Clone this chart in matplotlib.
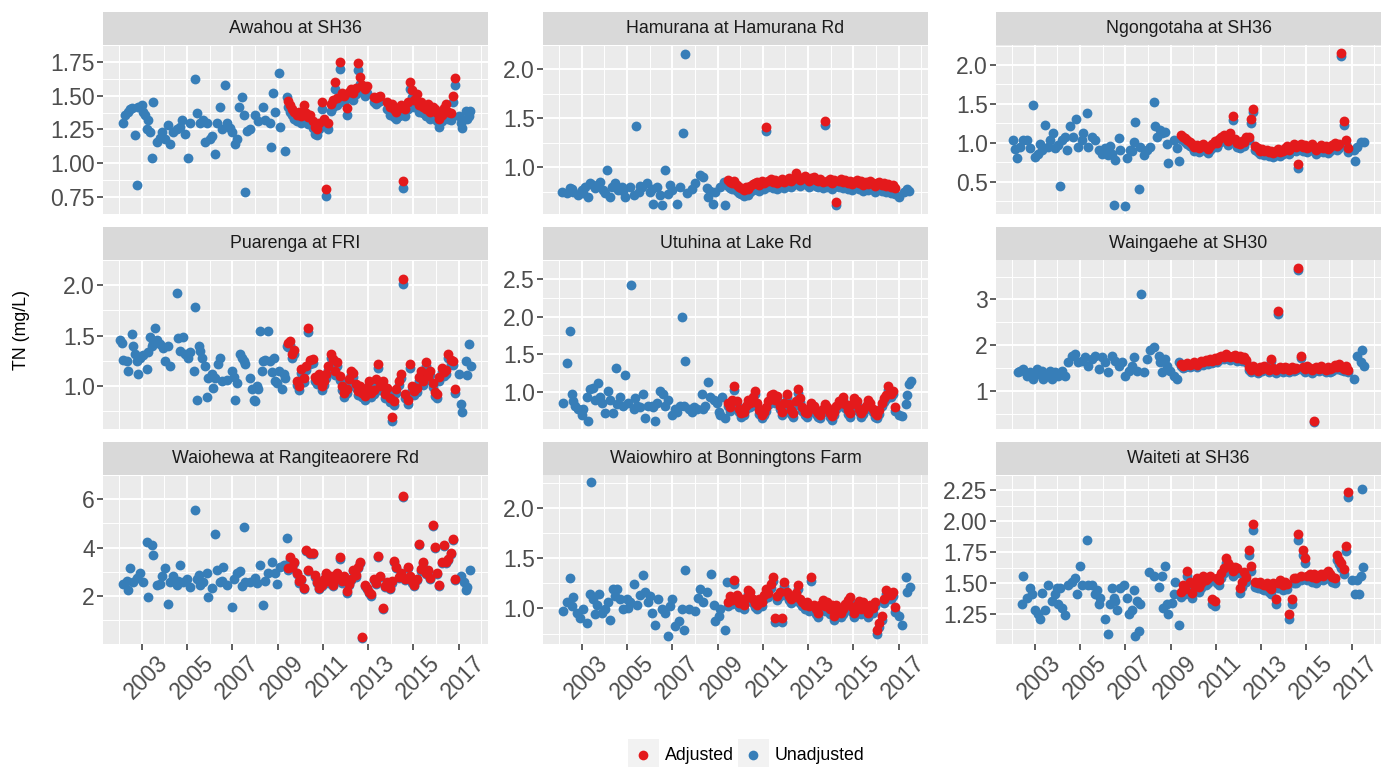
import numpy as np
import matplotlib
matplotlib.use("Agg")
import matplotlib.pyplot as plt
import matplotlib.transforms as mtransforms
from matplotlib.patches import Rectangle
from matplotlib.lines import Line2D

plt.rcParams['font.family'] = ['Liberation Sans', 'DejaVu Sans']

nan = np.nan

SITES = ["Awahou at SH36", "Hamurana at Hamurana Rd", "Ngongotaha at SH36",
         "Puarenga at FRI", "Utuhina at Lake Rd", "Waingaehe at SH30",
         "Waiohewa at Rangiteaorere Rd", "Waiowhiro at Bonningtons Farm", "Waiteti at SH36"]

# sampling dates (decimal year) where both adjusted and unadjusted TN exist
POST_DATES = [
    2009.45, 2009.55, 2009.65, 2009.75, 2009.85,
    2009.95, 2010.05, 2010.15, 2010.25, 2010.35,
    2010.45, 2010.55, 2010.65, 2010.75, 2010.85,
    2010.95, 2011.05, 2011.15, 2011.25, 2011.35,
    2011.45, 2011.55, 2011.65, 2011.75, 2011.85,
    2011.95, 2012.05, 2012.15, 2012.25, 2012.35,
    2012.45, 2012.55, 2012.65, 2012.75, 2012.85,
    2012.95, 2013.05, 2013.15, 2013.25, 2013.35,
    2013.45, 2013.55, 2013.65, 2013.75, 2013.85,
    2013.95, 2014.05, 2014.15, 2014.25, 2014.35,
    2014.45, 2014.55, 2014.65, 2014.75, 2014.85,
    2014.95, 2015.05, 2015.15, 2015.25, 2015.35,
    2015.45, 2015.55, 2015.65, 2015.75, 2015.85,
    2015.95, 2016.05, 2016.15, 2016.25, 2016.35,
    2016.45, 2016.55, 2016.65, 2016.75, 2016.85,
]

# ---- Awahou ----
AWAHOU_EARLY = [
    (2002.19, 1.30), (2002.26, 1.36), (2002.41, 1.38), (2002.48, 1.40), (2002.56, 1.41),
    (2002.71, 1.21), (2002.78, 0.84), (2002.85, 1.42), (2003.00, 1.43), (2003.07, 1.38),
    (2003.15, 1.36), (2003.22, 1.25), (2003.29, 1.32), (2003.37, 1.23), (2003.44, 1.04),
    (2003.52, 1.45), (2003.66, 1.16), (2003.81, 1.19), (2003.88, 1.23), (2004.03, 1.18),
    (2004.18, 1.28), (2004.25, 1.14), (2004.40, 1.23), (2004.55, 1.25), (2004.70, 1.27),
    (2004.77, 1.32), (2004.92, 1.22), (2005.06, 1.04), (2005.14, 1.30), (2005.36, 1.62),
    (2005.43, 1.37), (2005.58, 1.30), (2005.73, 1.32), (2005.80, 1.16), (2005.88, 1.30),
    (2006.02, 1.18), (2006.10, 1.20), (2006.24, 1.07), (2006.32, 1.30), (2006.47, 1.42),
    (2006.54, 1.25), (2006.69, 1.58), (2006.76, 1.30), (2006.91, 1.26), (2006.98, 1.23),
    (2007.13, 1.14), (2007.20, 1.18), (2007.28, 1.42), (2007.42, 1.49), (2007.50, 1.36),
    (2007.57, 0.79), (2007.65, 1.24), (2007.79, 1.25), (2008.01, 1.36), (2008.16, 1.31),
    (2008.38, 1.42), (2008.46, 1.32), (2008.68, 1.30), (2008.71, 1.12), (2008.80, 1.52),
    (2008.90, 1.38), (2009.05, 1.67), (2009.12, 1.27), (2009.34, 1.09), (2009.42, 1.49),
    (2017.01, 1.35), (2017.09, 1.30), (2017.16, 1.26), (2017.31, 1.39), (2017.38, 1.33),
    (2017.45, 1.35), (2017.50, 1.39),
]
AWAHOU_ADJ = [
    1.46, 1.43, 1.40, 1.38, 1.36, 1.38, 1.35, 1.43, 1.37, 1.34,
    1.36, 1.31, 1.27, 1.25, 1.30, 1.45, 1.33, 0.81, 1.30, 1.44,
    1.47, 1.60, 1.48, 1.75, 1.52, 1.50, 1.41, 1.53, 1.55, 1.52,
    1.56, 1.74, 1.64, 1.58, 1.55, 1.57, nan, nan, 1.49, 1.48,
    1.49, 1.50, nan, nan, 1.45, 1.42, 1.44, 1.40, 1.38, 1.41,
    1.43, 0.87, 1.40, 1.45, 1.60, 1.54, 1.47, 1.51, 1.43, 1.45,
    1.42, 1.40, 1.44, 1.38, 1.42, 1.40, 1.37, 1.33, 1.36, 1.41,
    1.44, 1.38, 1.37, 1.50, 1.63,
]
AWAHOU_UNADJ = [
    1.42, 1.38, 1.36, 1.33, 1.31, 1.34, 1.30, 1.38, 1.33, 1.29,
    1.31, 1.26, 1.22, 1.21, 1.25, 1.40, 1.28, 0.76, 1.25, 1.39,
    1.42, 1.55, 1.43, 1.70, 1.47, 1.45, 1.36, 1.48, 1.50, 1.47,
    1.51, 1.69, 1.59, 1.53, 1.50, 1.52, nan, nan, 1.45, 1.44,
    1.45, 1.46, nan, nan, 1.40, 1.36, 1.38, 1.34, 1.33, 1.35,
    1.37, 0.82, 1.35, 1.40, 1.55, 1.49, 1.42, 1.46, 1.38, 1.40,
    1.37, 1.35, 1.39, 1.33, 1.37, 1.35, 1.31, 1.27, 1.31, 1.36,
    1.39, 1.33, 1.32, 1.45, 1.58,
]

# ---- Hamurana ----
HAMURANA_EARLY = [
    (2002.12, 0.75), (2002.34, 0.74), (2002.48, 0.79), (2002.56, 0.78), (2002.63, 0.75),
    (2002.85, 0.72), (2003.00, 0.77), (2003.07, 0.74), (2003.15, 0.80), (2003.29, 0.70),
    (2003.37, 0.84), (2003.52, 0.82), (2003.59, 0.79), (2003.81, 0.85), (2003.96, 0.77),
    (2004.03, 0.74), (2004.11, 0.97), (2004.25, 0.70), (2004.33, 0.80), (2004.47, 0.84),
    (2004.62, 0.77), (2004.77, 0.80), (2004.84, 0.76), (2004.92, 0.70), (2005.14, 0.80),
    (2005.29, 0.72), (2005.40, 1.42), (2005.51, 0.75), (2005.58, 0.81), (2005.65, 0.80),
    (2005.88, 0.84), (2006.02, 0.75), (2006.10, 0.78), (2006.17, 0.63), (2006.32, 0.80),
    (2006.47, 0.72), (2006.54, 0.62), (2006.69, 0.97), (2006.83, 0.73), (2006.91, 0.82),
    (2006.98, 0.77), (2007.20, 0.63), (2007.35, 0.80), (2007.46, 1.35), (2007.57, 2.16),
    (2007.65, 0.74), (2007.87, 0.78), (2008.01, 0.84), (2008.24, 0.92), (2008.38, 0.90),
    (2008.53, 0.79), (2008.60, 0.70), (2008.68, 0.76), (2008.78, 0.63), (2008.90, 0.75),
    (2009.12, 0.80), (2009.27, 0.85), (2009.34, 0.62),
    (2017.01, 0.70), (2017.23, 0.75), (2017.38, 0.78), (2017.45, 0.76),
]
HAMURANA_ADJ = [
    0.87, 0.85, 0.84, 0.86, 0.82, 0.80, 0.79, 0.77, 0.80, 0.78,
    0.81, 0.83, 0.84, 0.85, 0.82, 0.86, 0.84, 1.41, 0.86, 0.88,
    0.85, 0.87, 0.84, 0.86, 0.88, 0.85, 0.87, 0.89, 0.86, 0.88,
    0.94, 0.90, 0.87, 0.89, 0.91, 0.88, 0.86, 0.89, 0.90, 0.87,
    0.86, 0.88, 0.85, 1.47, 0.86, 0.88, 0.84, 0.87, 0.65, 0.86,
    0.88, 0.85, 0.87, 0.84, 0.86, 0.83, 0.85, 0.87, 0.84, 0.86,
    0.82, 0.85, 0.83, 0.86, 0.84, 0.81, 0.84, 0.85, 0.82, 0.84,
    0.81, 0.83, 0.80, 0.82, 0.79,
]
HAMURANA_UNADJ = [
    0.81, 0.79, 0.78, 0.80, 0.76, 0.74, 0.73, 0.71, 0.74, 0.72,
    0.75, 0.77, 0.78, 0.79, 0.76, 0.80, 0.78, 1.37, 0.80, 0.82,
    0.79, 0.81, 0.78, 0.80, 0.82, 0.79, 0.81, 0.83, 0.80, 0.82,
    0.88, 0.84, 0.81, 0.83, 0.85, 0.82, 0.80, 0.83, 0.84, 0.81,
    0.80, 0.82, 0.79, 1.43, 0.80, 0.82, 0.78, 0.81, 0.61, 0.80,
    0.82, 0.79, 0.81, 0.78, 0.80, 0.77, 0.79, 0.81, 0.78, 0.80,
    0.76, 0.79, 0.77, 0.80, 0.78, 0.75, 0.78, 0.79, 0.76, 0.78,
    0.75, 0.77, 0.74, 0.76, 0.73,
]

# ---- Ngongotaha ----
NGONGOTAHA_EARLY = [
    (2002.06, 1.04), (2002.13, 0.92), (2002.20, 0.80), (2002.35, 0.95), (2002.50, 1.04),
    (2002.65, 1.04), (2002.79, 0.93), (2002.91, 1.49), (2003.01, 0.82), (2003.16, 0.86),
    (2003.24, 0.98), (2003.31, 0.91), (2003.46, 1.23), (2003.60, 0.95), (2003.68, 1.04),
    (2003.80, 1.12), (2003.90, 0.93), (2004.05, 0.97), (2004.12, 0.44), (2004.19, 1.04),
    (2004.34, 1.08), (2004.42, 0.91), (2004.56, 1.21), (2004.71, 1.08), (2004.83, 1.31),
    (2004.93, 0.95), (2005.08, 1.04), (2005.15, 1.12), (2005.30, 1.38), (2005.37, 0.95),
    (2005.52, 1.08), (2005.67, 1.04), (2005.82, 0.91), (2005.96, 0.86), (2006.11, 0.93),
    (2006.26, 0.84), (2006.33, 0.96), (2006.41, 0.86), (2006.49, 0.20), (2006.56, 0.78),
    (2006.71, 1.06), (2006.78, 0.91), (2007.00, 0.19), (2007.08, 0.80), (2007.19, 0.91),
    (2007.30, 0.89), (2007.37, 1.01), (2007.45, 1.27), (2007.60, 0.41), (2007.67, 0.95),
    (2007.81, 0.84), (2007.96, 0.91), (2008.11, 0.95), (2008.25, 1.53), (2008.32, 1.21),
    (2008.40, 1.08), (2008.55, 1.16), (2008.62, 1.12), (2008.77, 1.14), (2008.84, 0.99),
    (2008.91, 0.74), (2009.14, 1.04), (2009.28, 0.93), (2009.36, 0.76),
    (2017.10, 0.91), (2017.17, 0.76), (2017.25, 0.95), (2017.40, 1.01), (2017.54, 1.01),
]
NGONGOTAHA_ADJ = [
    1.10, 1.08, 1.06, 1.04, 1.01, 0.99, 0.95, 0.97, 0.93, 0.96,
    0.99, 0.94, 0.92, 0.96, 0.98, 1.02, 1.00, 1.05, 1.08, 1.10,
    1.06, 1.02, 1.12, 1.34, 1.05, 1.00, 0.98, 1.02, 1.01, 1.08,
    1.08, 1.30, 1.44, 0.96, 0.93, 0.90, 0.92, 0.89, 0.91, 0.88,
    0.90, 0.87, 0.89, 0.92, 0.88, 0.90, 0.93, 0.96, 0.91, 0.95,
    0.99, 0.94, 0.73, 0.98, 0.95, 0.97, 0.93, 0.96, 0.99, 0.94,
    0.91, 0.95, 0.97, 0.93, 0.96, 0.92, 0.94, 0.97, 1.00, 0.96,
    0.98, 2.16, 1.28, 1.04, 0.93,
]
NGONGOTAHA_UNADJ = [
    1.05, 1.03, 1.01, 0.99, 0.96, 0.94, 0.90, 0.92, 0.88, 0.91,
    0.94, 0.89, 0.87, 0.91, 0.93, 0.97, 0.95, 1.00, 1.03, 1.05,
    1.01, 0.97, 1.07, 1.29, 1.00, 0.95, 0.93, 0.97, 0.96, 1.03,
    1.03, 1.25, 1.39, 0.91, 0.88, 0.85, 0.87, 0.84, 0.86, 0.83,
    0.85, 0.82, 0.84, 0.87, 0.83, 0.85, 0.88, 0.91, 0.86, 0.90,
    0.94, 0.89, 0.68, 0.93, 0.90, 0.92, 0.88, 0.91, 0.94, 0.89,
    0.86, 0.90, 0.92, 0.88, 0.91, 0.87, 0.89, 0.92, 0.95, 0.91,
    0.93, 2.11, 1.23, 0.99, 0.88,
]

# ---- Puarenga ----
PUARENGA_EARLY = [
    (2002.04, 1.46), (2002.12, 1.43), (2002.19, 1.26), (2002.34, 1.25), (2002.41, 1.15),
    (2002.56, 1.52), (2002.63, 1.40), (2002.71, 1.32), (2002.78, 1.25), (2002.85, 1.12),
    (2002.93, 1.28), (2003.07, 1.31), (2003.22, 1.17), (2003.29, 1.34), (2003.37, 1.49),
    (2003.44, 1.40), (2003.52, 1.43), (2003.59, 1.58), (2003.66, 1.46), (2003.81, 1.42),
    (2003.96, 1.38), (2004.03, 1.25), (2004.18, 1.40), (2004.25, 1.20), (2004.55, 1.92),
    (2004.62, 1.48), (2004.70, 1.35), (2004.84, 1.49), (2004.92, 1.32), (2005.06, 1.28),
    (2005.14, 1.34), (2005.29, 1.15), (2005.36, 1.78), (2005.43, 0.86), (2005.51, 1.40),
    (2005.58, 1.35), (2005.65, 1.28), (2005.80, 1.20), (2005.88, 0.89), (2005.95, 1.08),
    (2006.10, 1.12), (2006.17, 0.98), (2006.24, 1.08), (2006.39, 1.22), (2006.47, 1.28),
    (2006.54, 1.05), (2006.76, 1.06), (2006.98, 1.15), (2007.06, 1.09), (2007.13, 0.86),
    (2007.20, 1.03), (2007.35, 1.32), (2007.42, 1.28), (2007.50, 1.25), (2007.57, 1.22),
    (2007.79, 1.08), (2007.87, 0.97), (2007.94, 0.86), (2008.01, 0.85), (2008.09, 1.00),
    (2008.16, 0.97), (2008.24, 1.55), (2008.31, 1.15), (2008.38, 1.25), (2008.46, 1.26),
    (2008.60, 1.55), (2008.68, 1.25), (2008.75, 1.14), (2008.83, 1.28), (2008.90, 1.05),
    (2008.97, 1.03), (2009.05, 1.15), (2009.19, 0.97), (2009.27, 1.12), (2009.34, 1.08),
    (2009.42, 1.40),
    (2017.01, 1.12), (2017.09, 0.82), (2017.16, 0.74), (2017.31, 1.25), (2017.38, 1.11),
    (2017.45, 1.42), (2017.53, 1.20),
]
PUARENGA_ADJ = [
    1.43, 1.45, 1.32, 1.36, 1.05, 1.00, 1.17, 1.08, 1.20, 1.58,
    1.26, 1.27, 1.09, 1.06, 1.12, 1.00, 1.05, 1.12, 1.20, 1.32,
    1.27, 1.15, 1.24, 1.10, 1.00, 0.93, 0.97, 1.07, 1.15, 1.13,
    1.02, 0.95, 1.00, 0.93, 0.90, 0.98, 1.05, 0.93, 0.96, 1.07,
    1.22, 1.00, 1.05, 0.92, 0.98, 0.88, 0.69, 0.85, 0.97, 1.05,
    1.12, 2.06, 0.92, 0.86, 1.22, 1.00, 0.95, 0.98, 1.09, 1.15,
    1.05, 1.24, 1.10, 1.15, 1.03, 0.94, 0.92, 1.09, 1.18, 1.14,
    1.16, 1.32, 1.26, 1.25, 0.97,
]
PUARENGA_UNADJ = [
    1.39, 1.41, 1.28, 1.32, 1.01, 0.96, 1.13, 1.04, 1.16, 1.54,
    1.22, 1.23, 1.05, 1.02, 1.08, 0.96, 1.01, 1.08, 1.16, 1.28,
    1.23, 1.11, 1.20, 1.06, 0.96, 0.89, 0.93, 1.03, 1.11, 1.09,
    0.98, 0.91, 0.96, 0.89, 0.86, 0.94, 1.01, 0.89, 0.92, 1.03,
    1.18, 0.96, 1.01, 0.88, 0.94, 0.84, 0.65, 0.81, 0.93, 1.01,
    1.08, 2.01, 0.88, 0.82, 1.18, 0.96, 0.91, 0.94, 1.05, 1.11,
    1.01, 1.20, 1.06, 1.11, 0.99, 0.90, 0.88, 1.05, 1.14, 1.10,
    1.12, 1.28, 1.22, 1.21, 0.93,
]

# ---- Utuhina ----
UTUHINA_EARLY = [
    (2002.19, 0.86), (2002.34, 1.38), (2002.48, 1.81), (2002.56, 0.98), (2002.63, 0.88),
    (2002.71, 0.82), (2002.85, 0.78), (2003.00, 0.70), (2003.07, 0.78), (2003.22, 0.94),
    (2003.29, 0.62), (2003.37, 1.04), (2003.52, 1.06), (2003.59, 0.90), (2003.74, 1.12),
    (2003.81, 0.94), (2003.88, 0.86), (2004.03, 0.72), (2004.18, 1.02), (2004.25, 0.90),
    (2004.40, 0.72), (2004.52, 1.32), (2004.55, 0.84), (2004.70, 0.94), (2004.84, 0.82),
    (2004.92, 1.23), (2005.06, 0.86), (2005.17, 2.42), (2005.29, 0.78), (2005.36, 0.92),
    (2005.43, 0.82), (2005.58, 0.80), (2005.73, 0.98), (2005.80, 0.66), (2005.95, 0.82),
    (2006.10, 0.82), (2006.17, 0.80), (2006.24, 0.62), (2006.32, 0.86), (2006.47, 1.02),
    (2006.61, 0.98), (2006.69, 0.82), (2006.83, 0.90), (2006.98, 0.70), (2007.13, 0.78),
    (2007.20, 0.74), (2007.35, 0.82), (2007.45, 2.00), (2007.50, 0.82), (2007.57, 1.41),
    (2007.72, 0.78), (2007.87, 0.74), (2007.94, 0.80), (2008.09, 0.78), (2008.31, 0.98),
    (2008.38, 0.78), (2008.46, 0.82), (2008.56, 1.13), (2008.68, 0.94), (2008.83, 0.90),
    (2008.97, 0.86), (2009.05, 0.74), (2009.12, 0.70), (2009.19, 0.94), (2009.34, 0.66),
    (2017.01, 0.70), (2017.16, 0.68), (2017.31, 0.84), (2017.38, 0.96), (2017.45, 1.10),
    (2017.53, 1.14),
]
UTUHINA_ADJ = [
    0.86, 0.80, 0.90, 1.08, 0.88, 0.78, 0.72, 0.74, 0.82, 0.90,
    0.85, 0.94, 1.02, 0.86, 0.76, 0.70, 0.74, 0.80, 0.88, 0.96,
    0.97, 0.90, 0.95, 0.82, 0.74, 0.86, 0.98, 0.84, 0.76, 0.72,
    0.88, 1.04, 0.92, 0.80, 0.74, 0.72, 0.78, 0.86, 0.82, 0.76,
    0.72, 0.70, 0.78, 0.84, 0.80, 0.72, 0.68, 0.74, 0.82, 0.88,
    0.86, 0.94, 0.84, 0.76, 0.72, 0.84, 0.92, 0.88, 0.78, 0.72,
    0.76, 0.82, 0.90, 0.86, 0.78, 0.72, 0.70, 0.76, 0.86, 0.92,
    0.96, 1.08, 0.98, 1.02, 0.80,
]
UTUHINA_UNADJ = [
    0.81, 0.75, 0.85, 1.03, 0.83, 0.73, 0.67, 0.69, 0.77, 0.85,
    0.80, 0.89, 0.97, 0.81, 0.71, 0.65, 0.69, 0.75, 0.83, 0.91,
    0.92, 0.85, 0.90, 0.77, 0.69, 0.81, 0.93, 0.79, 0.71, 0.67,
    0.83, 0.99, 0.87, 0.75, 0.69, 0.67, 0.73, 0.81, 0.77, 0.71,
    0.67, 0.65, 0.73, 0.79, 0.75, 0.67, 0.63, 0.69, 0.77, 0.83,
    0.81, 0.89, 0.79, 0.71, 0.67, 0.79, 0.87, 0.83, 0.73, 0.67,
    0.71, 0.77, 0.85, 0.81, 0.73, 0.67, 0.65, 0.71, 0.81, 0.87,
    0.91, 1.03, 0.93, 0.97, 0.75,
]

# ---- Waingaehe ----
WAINGAEHE_EARLY = [
    (2002.28, 1.42), (2002.35, 1.45), (2002.50, 1.49), (2002.65, 1.34), (2002.79, 1.42),
    (2002.94, 1.27), (2003.09, 1.49), (2003.16, 1.38), (2003.31, 1.45), (2003.38, 1.27),
    (2003.53, 1.34), (2003.68, 1.45), (2003.75, 1.27), (2003.90, 1.42), (2004.05, 1.34),
    (2004.19, 1.45), (2004.34, 1.34), (2004.49, 1.64), (2004.64, 1.78), (2004.78, 1.82),
    (2004.93, 1.64), (2005.08, 1.67), (2005.23, 1.74), (2005.37, 1.56), (2005.52, 1.71),
    (2005.67, 1.78), (2005.82, 1.49), (2005.96, 1.74), (2006.11, 1.64), (2006.26, 1.42),
    (2006.41, 1.78), (2006.56, 1.67), (2006.71, 1.56), (2006.85, 1.64), (2007.00, 1.34),
    (2007.15, 1.45), (2007.30, 1.56), (2007.40, 1.74), (2007.52, 1.45), (2007.70, 3.11),
    (2007.81, 1.42), (2007.96, 1.71), (2008.11, 1.89), (2008.28, 1.96), (2008.47, 1.78),
    (2008.55, 1.64), (2008.62, 1.42), (2008.77, 1.71), (2008.84, 1.56), (2008.99, 1.45),
    (2009.14, 1.34), (2009.28, 1.27), (2009.36, 1.64),
    (2017.10, 1.27), (2017.25, 1.78), (2017.40, 1.64), (2017.47, 1.89), (2017.54, 1.56),
]
WAINGAEHE_ADJ = [
    1.60, 1.56, 1.58, 1.62, 1.57, 1.60, 1.64, 1.58, 1.62, 1.66,
    1.63, 1.68, 1.65, 1.70, 1.67, 1.72, 1.69, 1.74, 1.78, 1.75,
    1.82, 1.78, 1.74, 1.77, 1.80, 1.72, 1.76, 1.70, 1.75, 1.68,
    1.52, 1.47, 1.55, 1.50, 1.45, 1.53, 1.49, 1.56, 1.51, 1.47,
    1.71, 1.50, 1.46, 2.74, 1.52, 1.48, 1.54, 1.50, 1.47, 1.53,
    1.49, 1.51, 3.69, 1.78, 1.52, 1.48, 1.55, 1.50, 1.46, 0.35,
    1.52, 1.49, 1.55, 1.51, 1.47, 1.53, 1.48, 1.50, 1.58, 1.54,
    1.60, 1.52, 1.49, 1.55, 1.47,
]
WAINGAEHE_UNADJ = [
    1.55, 1.51, 1.53, 1.57, 1.52, 1.55, 1.59, 1.53, 1.57, 1.61,
    1.58, 1.63, 1.60, 1.65, 1.62, 1.67, 1.64, 1.69, 1.73, 1.70,
    1.77, 1.73, 1.69, 1.72, 1.75, 1.67, 1.71, 1.65, 1.70, 1.63,
    1.47, 1.42, 1.50, 1.45, 1.40, 1.48, 1.44, 1.51, 1.46, 1.42,
    1.66, 1.45, 1.41, 2.69, 1.47, 1.43, 1.49, 1.45, 1.42, 1.48,
    1.44, 1.46, 3.64, 1.73, 1.47, 1.43, 1.50, 1.45, 1.41, 0.33,
    1.47, 1.44, 1.50, 1.46, 1.42, 1.48, 1.43, 1.45, 1.53, 1.49,
    1.55, 1.47, 1.44, 1.50, 1.42,
]

# ---- Waiohewa ----
WAIOHEWA_EARLY = [
    (2002.19, 2.51), (2002.34, 2.60), (2002.41, 2.25), (2002.48, 3.14), (2002.63, 2.57),
    (2002.78, 2.76), (2002.93, 2.95), (2003.07, 2.57), (2003.22, 4.22), (2003.29, 1.94),
    (2003.44, 4.10), (2003.52, 3.71), (2003.66, 2.44), (2003.81, 2.50), (2003.88, 2.83),
    (2004.03, 3.14), (2004.18, 1.68), (2004.25, 2.57), (2004.40, 2.83), (2004.55, 2.44),
    (2004.62, 2.62), (2004.70, 3.27), (2004.84, 2.57), (2004.99, 2.70), (2005.14, 2.38),
    (2005.36, 5.56), (2005.43, 2.70), (2005.51, 2.85), (2005.58, 2.44), (2005.73, 2.57),
    (2005.88, 2.95), (2005.95, 1.94), (2006.10, 2.32), (2006.24, 4.54), (2006.32, 3.08),
    (2006.47, 2.57), (2006.54, 2.60), (2006.61, 3.21), (2006.76, 2.44), (2006.98, 1.56),
    (2007.06, 2.70), (2007.20, 2.95), (2007.35, 3.02), (2007.42, 2.40), (2007.50, 4.86),
    (2007.57, 2.57), (2007.79, 2.57), (2008.01, 2.76), (2008.09, 2.55), (2008.24, 3.27),
    (2008.38, 1.62), (2008.46, 2.63), (2008.60, 2.95), (2008.75, 3.40), (2008.90, 2.95),
    (2008.97, 2.51), (2009.12, 3.21), (2009.27, 3.27), (2009.42, 4.41),
    (2017.09, 2.83), (2017.23, 2.57), (2017.31, 2.25), (2017.38, 2.38), (2017.50, 3.08),
]
WAIOHEWA_ADJ = [
    3.14, 3.59, 3.20, 3.40, 2.95, 2.60, 2.70, 2.32, 3.90, 3.08,
    3.78, 3.78, 2.85, 2.57, 2.32, 2.45, 2.70, 2.95, 2.60, 2.83,
    2.44, 2.70, 2.95, 3.59, 2.60, 2.83, 2.19, 2.50, 2.70, 3.08,
    2.85, 3.21, 3.40, 0.30, 2.44, 2.32, 2.15, 2.06, 2.70, 2.55,
    3.65, 2.83, 1.49, 2.40, 2.57, 2.32, 2.60, 3.46, 3.21, 2.80,
    2.95, 6.12, 2.70, 3.21, 2.83, 2.60, 2.44, 2.70, 4.16, 3.10,
    3.40, 2.95, 3.08, 2.75, 4.92, 4.03, 2.95, 2.44, 3.40, 4.10,
    3.40, 3.52, 3.78, 4.35, 2.70,
]
WAIOHEWA_UNADJ = [
    3.09, 3.54, 3.15, 3.35, 2.90, 2.55, 2.65, 2.27, 3.85, 3.03,
    3.73, 3.73, 2.80, 2.52, 2.27, 2.40, 2.65, 2.90, 2.55, 2.78,
    2.39, 2.65, 2.90, 3.54, 2.55, 2.78, 2.14, 2.45, 2.65, 3.03,
    2.80, 3.16, 3.35, 0.27, 2.39, 2.27, 2.10, 2.01, 2.65, 2.50,
    3.60, 2.78, 1.44, 2.35, 2.52, 2.27, 2.55, 3.41, 3.16, 2.75,
    2.90, 6.07, 2.65, 3.16, 2.78, 2.55, 2.39, 2.65, 4.11, 3.05,
    3.35, 2.90, 3.03, 2.70, 4.87, 3.98, 2.90, 2.39, 3.35, 4.05,
    3.35, 3.47, 3.73, 4.30, 2.65,
]

# ---- Waiowhiro ----
WAIOWHIRO_EARLY = [
    (2002.19, 0.98), (2002.34, 1.06), (2002.48, 1.30), (2002.56, 1.02), (2002.63, 1.11),
    (2002.78, 0.96), (2002.93, 0.91), (2003.07, 0.99), (2003.22, 0.86), (2003.37, 1.14),
    (2003.41, 2.26), (2003.52, 1.09), (2003.59, 0.95), (2003.66, 1.03), (2003.78, 1.14),
    (2003.88, 0.96), (2004.03, 0.99), (2004.18, 1.06), (2004.25, 0.89), (2004.40, 1.19),
    (2004.47, 1.12), (2004.55, 1.19), (2004.70, 1.09), (2004.84, 0.99), (2004.99, 1.09),
    (2005.06, 1.00), (2005.14, 1.06), (2005.29, 1.24), (2005.43, 1.03), (2005.58, 1.13),
    (2005.73, 1.33), (2005.80, 1.16), (2005.95, 1.06), (2006.02, 1.12), (2006.10, 0.96),
    (2006.24, 0.84), (2006.39, 1.09), (2006.54, 0.99), (2006.69, 0.96), (2006.83, 0.73),
    (2006.91, 1.02), (2006.98, 1.09), (2007.13, 0.83), (2007.28, 0.88), (2007.42, 0.99),
    (2007.50, 0.79), (2007.57, 1.38), (2007.72, 0.99), (2008.01, 0.98), (2008.16, 1.10),
    (2008.24, 1.19), (2008.38, 1.06), (2008.53, 1.16), (2008.71, 1.34), (2008.83, 1.03),
    (2008.90, 0.88), (2009.05, 0.93), (2009.12, 0.99), (2009.34, 0.79), (2009.42, 1.26),
    (2017.01, 0.93), (2017.16, 0.84), (2017.31, 1.31), (2017.38, 1.16), (2017.50, 1.21),
]
WAIOWHIRO_ADJ = [
    1.06, 1.12, 1.08, 1.28, 1.13, 1.05, 1.09, 1.03, 1.10, 1.18,
    1.16, 1.09, 1.05, 1.03, 1.09, 1.06, 1.13, 1.19, 1.15, 1.24,
    1.31, 0.91, 1.12, 1.16, 0.91, 1.26, 1.16, 1.12, 1.09, 1.11,
    1.15, 1.23, 1.09, 1.06, 1.03, 1.06, 1.02, 1.31, 1.03, 0.99,
    0.96, 1.03, 1.08, 1.02, 1.06, 0.99, 1.03, 0.93, 1.03, 0.98,
    0.96, 0.99, 1.04, 1.08, 1.11, 1.01, 0.96, 1.03, 1.07, 0.99,
    1.06, 1.00, 0.96, 1.03, 1.00, 1.06, 0.79, 0.86, 0.93, 1.09,
    1.18, 1.13, 1.13, 1.16, 1.01,
]
WAIOWHIRO_UNADJ = [
    1.02, 1.08, 1.04, 1.24, 1.09, 1.01, 1.05, 0.99, 1.06, 1.14,
    1.12, 1.05, 1.01, 0.99, 1.05, 1.02, 1.09, 1.15, 1.11, 1.20,
    1.27, 0.87, 1.08, 1.12, 0.87, 1.22, 1.12, 1.08, 1.05, 1.07,
    1.11, 1.19, 1.05, 1.02, 0.99, 1.02, 0.98, 1.27, 0.99, 0.95,
    0.92, 0.99, 1.04, 0.98, 1.02, 0.95, 0.99, 0.89, 0.99, 0.94,
    0.92, 0.95, 1.00, 1.04, 1.07, 0.97, 0.92, 0.99, 1.03, 0.95,
    1.02, 0.96, 0.92, 0.99, 0.96, 1.02, 0.75, 0.82, 0.89, 1.05,
    1.14, 1.09, 1.09, 1.12, 0.97,
]

# ---- Waiteti ----
WAITETI_EARLY = [
    (2002.42, 1.33), (2002.50, 1.56), (2002.65, 1.38), (2002.79, 1.46), (2002.87, 1.41),
    (2003.01, 1.28), (2003.16, 1.25), (2003.24, 1.21), (2003.31, 1.42), (2003.46, 1.28),
    (2003.60, 1.48), (2003.75, 1.35), (2003.90, 1.41), (2003.97, 1.46), (2004.05, 1.33),
    (2004.12, 1.46), (2004.19, 1.30), (2004.34, 1.24), (2004.49, 1.48), (2004.64, 1.51),
    (2004.78, 1.54), (2004.86, 1.41), (2005.00, 1.64), (2005.08, 1.48), (2005.30, 1.85),
    (2005.37, 1.48), (2005.52, 1.48), (2005.67, 1.41), (2005.74, 1.44), (2005.82, 1.33),
    (2005.89, 1.38), (2006.11, 1.21), (2006.26, 1.09), (2006.33, 1.33), (2006.41, 1.46),
    (2006.49, 1.38), (2006.56, 1.35), (2006.63, 1.28), (2006.78, 1.46), (2006.93, 1.48),
    (2007.08, 1.38), (2007.15, 1.25), (2007.30, 1.28), (2007.37, 1.44), (2007.45, 1.07),
    (2007.52, 1.35), (2007.60, 1.11), (2007.67, 1.33), (2008.04, 1.59), (2008.25, 1.56),
    (2008.47, 1.47), (2008.62, 1.56), (2008.69, 1.30), (2008.77, 1.64), (2008.84, 1.33),
    (2008.91, 1.25), (2009.06, 1.34), (2009.14, 1.41), (2009.21, 1.51), (2009.36, 1.16),
    (2017.02, 1.52), (2017.17, 1.41), (2017.25, 1.52), (2017.32, 1.41), (2017.40, 1.56),
    (2017.47, 2.26), (2017.52, 1.63),
]
WAITETI_ADJ = [
    1.43, 1.48, 1.45, 1.60, 1.51, 1.42, 1.48, 1.54, 1.47, 1.50,
    1.56, 1.52, 1.54, 1.56, 1.37, 1.35, 1.54, 1.52, 1.58, 1.62,
    1.70, 1.66, 1.64, 1.60, 1.63, 1.62, 1.46, 1.51, 1.59, 1.55,
    1.77, 1.64, 1.98, 1.51, 1.50, 1.51, 1.49, 1.48, 1.50, 1.47,
    1.45, 1.50, 1.37, 1.50, 1.52, 1.48, 1.51, 1.49, 1.25, 1.37,
    1.54, 1.54, 1.90, 1.56, 1.77, 1.70, 1.56, 1.57, 1.55, 1.57,
    1.54, 1.56, 1.57, 1.56, 1.58, 1.60, 1.57, 1.55, 1.54, 1.73,
    1.69, 1.66, 1.61, 1.80, 2.24,
]
WAITETI_UNADJ = [
    1.39, 1.44, 1.41, 1.56, 1.47, 1.38, 1.44, 1.50, 1.43, 1.46,
    1.52, 1.48, 1.50, 1.52, 1.33, 1.31, 1.50, 1.48, 1.54, 1.58,
    1.66, 1.62, 1.60, 1.56, 1.59, 1.58, 1.42, 1.47, 1.55, 1.51,
    1.73, 1.60, 1.93, 1.47, 1.46, 1.47, 1.45, 1.44, 1.46, 1.43,
    1.41, 1.46, 1.33, 1.46, 1.48, 1.44, 1.47, 1.45, 1.21, 1.33,
    1.50, 1.50, 1.85, 1.52, 1.73, 1.66, 1.52, 1.53, 1.51, 1.53,
    1.50, 1.52, 1.53, 1.52, 1.54, 1.56, 1.53, 1.51, 1.50, 1.69,
    1.65, 1.62, 1.57, 1.76, 2.20,
]

# free y scales of the facets
Y_LIMITS = [(0.702, 1.804), (0.523, 2.248), (0.085, 2.257),
            (0.573, 2.123), (0.51, 2.50), (0.18, 3.86),
            (0.01, 6.40), (0.647, 2.327), (1.005, 2.315)]
Y_TICKS = [[0.75, 1.00, 1.25, 1.50, 1.75], [1.0, 1.5, 2.0], [0.5, 1.0, 1.5, 2.0],
           [1.0, 1.5, 2.0], [1.0, 1.5, 2.0, 2.5], [1, 2, 3],
           [2, 4, 6], [1.0, 1.5, 2.0], [1.25, 1.50, 1.75, 2.00, 2.25]]
Y_FMT = ["{:.2f}", "{:.1f}", "{:.1f}", "{:.1f}", "{:.1f}", "{:.0f}", "{:.0f}", "{:.1f}", "{:.2f}"]
X_TICKS = [2003, 2005, 2007, 2009, 2011, 2013, 2015, 2017]

EARLY = [AWAHOU_EARLY, HAMURANA_EARLY, NGONGOTAHA_EARLY, PUARENGA_EARLY, UTUHINA_EARLY,
         WAINGAEHE_EARLY, WAIOHEWA_EARLY, WAIOWHIRO_EARLY, WAITETI_EARLY]
ADJ = [AWAHOU_ADJ, HAMURANA_ADJ, NGONGOTAHA_ADJ, PUARENGA_ADJ, UTUHINA_ADJ,
       WAINGAEHE_ADJ, WAIOHEWA_ADJ, WAIOWHIRO_ADJ, WAITETI_ADJ]
UNADJ = [AWAHOU_UNADJ, HAMURANA_UNADJ, NGONGOTAHA_UNADJ, PUARENGA_UNADJ, UTUHINA_UNADJ,
         WAINGAEHE_UNADJ, WAIOHEWA_UNADJ, WAIOWHIRO_UNADJ, WAITETI_UNADJ]

RED = "#E41A1C"
BLUE = "#377EB8"
W, H = 1390, 767

fig = plt.figure(figsize=(W / 100, H / 100), dpi=100)
fig.patch.set_facecolor("white")

col_left = [103, 543, 996]
row_top = [45, 260, 475]
pw, ph, sh = 385, 169, 33
shift = mtransforms.ScaledTranslation(5 / 100, 0, fig.dpi_scale_trans)

for i, site in enumerate(SITES):
    r, c = divmod(i, 3)
    l, t = col_left[c], row_top[r]
    ax = fig.add_axes([l / W, 1 - (t + ph) / H, pw / W, ph / H])
    ax.set_facecolor("#EBEBEB")
    for s in ax.spines.values():
        s.set_visible(False)

    ex = [p[0] for p in EARLY[i]]
    ey = [p[1] for p in EARLY[i]]
    ax.scatter(ex, ey, s=50, color=BLUE, linewidths=0, zorder=3)
    ax.scatter(POST_DATES, UNADJ[i], s=50, color=BLUE, linewidths=0, zorder=3)
    ax.scatter(POST_DATES, ADJ[i], s=50, color=RED, linewidths=0, zorder=4)

    ax.set_xlim(2001.29, 2018.30)
    ax.set_ylim(*Y_LIMITS[i])
    yt = Y_TICKS[i]
    ax.set_yticks(yt)
    ax.set_yticklabels([Y_FMT[i].format(v) for v in yt])
    step = yt[1] - yt[0]
    minors = [yt[0] - step / 2] + [v + step / 2 for v in yt]
    ax.set_yticks(minors, minor=True)
    ax.set_xticks(X_TICKS)
    ax.set_xticks(range(2002, 2019, 2), minor=True)
    ax.grid(which="major", color="white", linewidth=1.4, zorder=0)
    ax.grid(which="minor", color="white", linewidth=0.7, zorder=0)
    ax.set_axisbelow(True)
    ax.tick_params(which="minor", length=0)
    ax.tick_params(axis="y", labelsize=16.5, labelcolor="#4D4D4D", color="#333333",
                   length=4, width=1.1, pad=2)
    if r == 2:
        ax.set_xticklabels([str(v) for v in X_TICKS], rotation=45, ha="center")
        ax.tick_params(axis="x", labelsize=16.5, labelcolor="#4D4D4D", color="#333333",
                       length=4, width=1.1, pad=1)
        for lab in ax.get_xticklabels():
            lab.set_transform(lab.get_transform() + shift)
    else:
        ax.tick_params(axis="x", length=0, labelbottom=False)

    sax = fig.add_axes([l / W, 1 - t / H, pw / W, sh / H])
    sax.set_facecolor("#D9D9D9")
    sax.set_xticks([])
    sax.set_yticks([])
    for s in sax.spines.values():
        s.set_visible(False)
    sax.text(0.5, 0.5, site, ha="center", va="center", fontsize=12.8, color="#1A1A1A",
             transform=sax.transAxes)

fig.text(22 / W, 1 - 330 / H, "TN (mg/L)", rotation=90, ha="center", va="center",
         fontsize=12.8, color="black")

# legend at the bottom: grey key boxes with a dot, then the label
for key_x, col, lab in [(628, RED, "Adjusted"), (738, BLUE, "Unadjusted")]:
    fig.add_artist(Rectangle((key_x / W, 1 - 770 / H), 31 / W, 31 / H,
                             transform=fig.transFigure, facecolor="#F2F2F2",
                             edgecolor="none"))
    fig.add_artist(Line2D([(key_x + 15) / W], [1 - 755 / H], transform=fig.transFigure,
                          marker="o", linestyle="", color=col, markersize=7,
                          markeredgewidth=0))
    fig.text((key_x + 37) / W, 1 - 755 / H, lab, ha="left", va="center",
             fontsize=12.8, color="black")

fig.savefig("out.png", dpi=100, facecolor="white")
